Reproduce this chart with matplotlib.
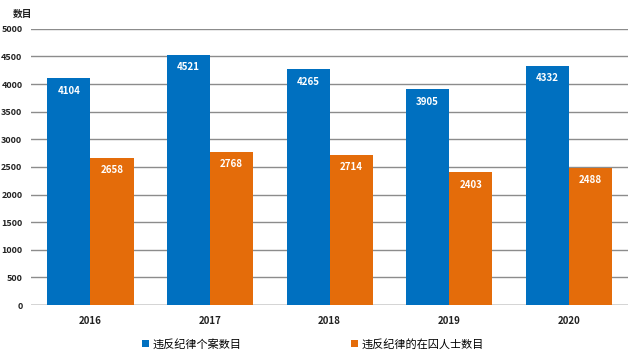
import numpy as np
import matplotlib
matplotlib.use('Agg')
import matplotlib.pyplot as plt

plt.rcParams['font.family'] = ['Noto Sans CJK SC', 'DejaVu Sans']

years = ['2016', '2017', '2018', '2019', '2020']
cases = [4104, 4521, 4265, 3905, 4332]
inmates = [2658, 2768, 2714, 2403, 2488]
series_names = ['违反纪律个案数目', '违反纪律的在囚人士数目']

BLUE = '#0070c0'
ORANGE = '#e46c0a'
GRID = '#8c8c8c'

fig = plt.figure(figsize=(6.4, 3.56), dpi=100)
ax = fig.add_axes((0.048, 0.143, 0.934, 0.776))

x = np.arange(len(years))
w = 0.36
b1 = ax.bar(x - w/2, cases, w, color=BLUE, label=series_names[0], zorder=3)
b2 = ax.bar(x + w/2, inmates, w, color=ORANGE, label=series_names[1], zorder=3)

# value labels inside the top of each bar
for bars in (b1, b2):
    for r in bars:
        ax.text(r.get_x() + r.get_width()/2, r.get_height() - 130, f'{int(r.get_height())}',
                ha='center', va='top', color='white', fontsize=7, fontweight='bold', zorder=4)

ax.set_xlim(-0.5, len(years) - 0.5)
ax.set_ylim(0, 5000)
ax.set_yticks(range(0, 5001, 500))
ax.set_xticks(x)
ax.set_xticklabels(years)
ax.tick_params(axis='both', length=0, labelsize=6.5, colors='#222222')
ax.tick_params(axis='x', pad=8, labelsize=7)
ax.tick_params(axis='y', pad=6)
for lab in ax.get_xticklabels() + ax.get_yticklabels():
    lab.set_fontweight('bold')
ax.yaxis.grid(True, color=GRID, lw=1, zorder=0)
for s in ax.spines.values():
    s.set_visible(False)
ax.axhline(0, color=GRID, lw=1, zorder=2)

fig.text(0.020, 0.962, '数目', fontsize=7, fontweight='bold', color='#222222', va='center')

ax.legend(loc='upper center', bbox_to_anchor=(0.472, -0.085), ncol=2, frameon=False,
          fontsize=8, handlelength=0.6, handleheight=0.6, handletextpad=0.3,
          columnspacing=9.9)

fig.savefig('out.png', dpi=100)
